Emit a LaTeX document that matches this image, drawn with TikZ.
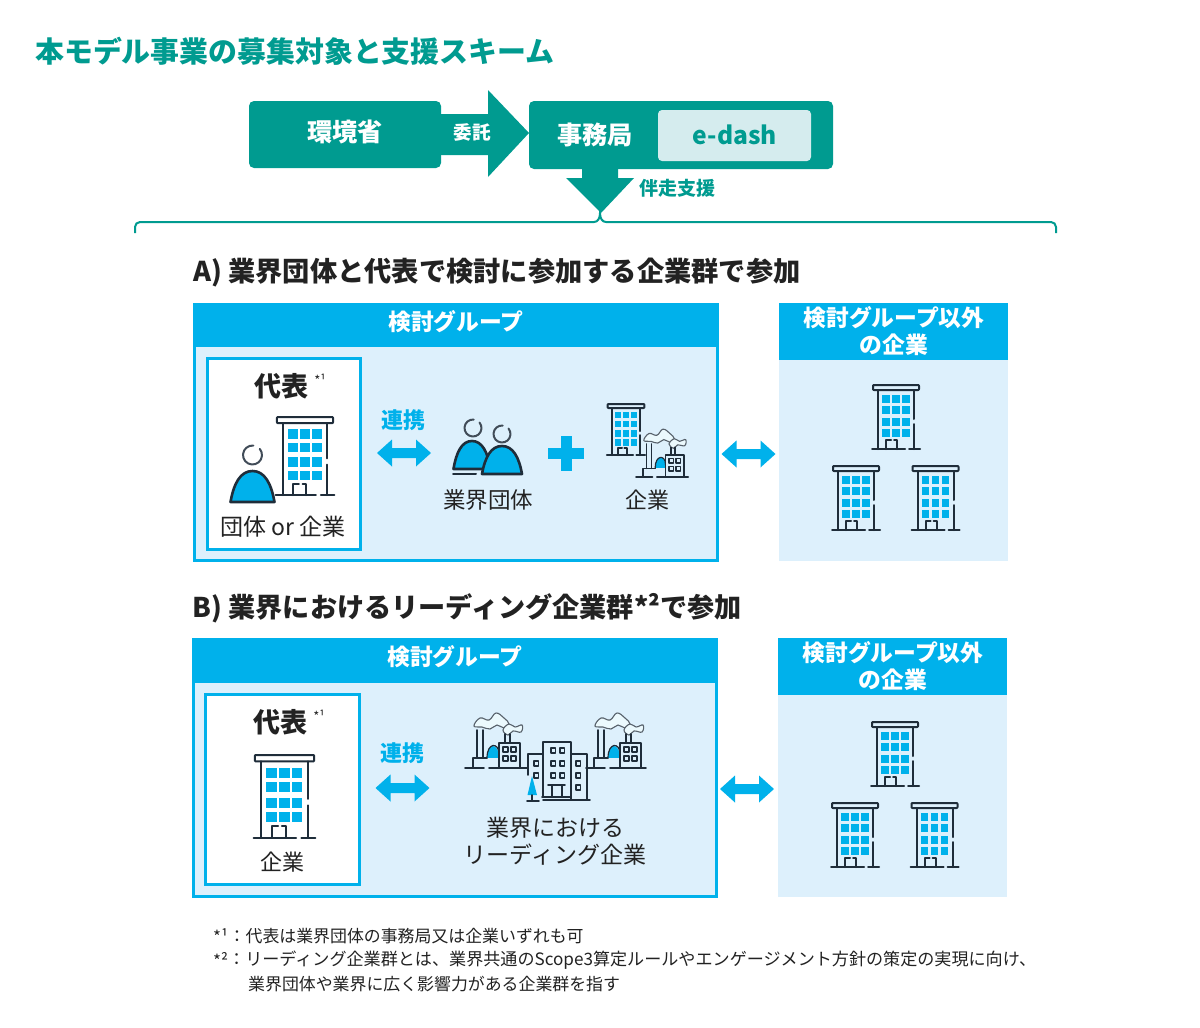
\documentclass[tikz,border=0pt]{standalone}
\usepackage{fontspec}
\newfontfamily\jp{Noto Sans CJK JP}
\definecolor{teal1}{HTML}{009B90}
\definecolor{teal2}{HTML}{D5ECEE}
\definecolor{blue1}{HTML}{00B1EB}
\definecolor{pane}{HTML}{DDF0FC}
\definecolor{ink}{HTML}{1F2D3A}
\definecolor{txt}{HTML}{222222}
\tikzset{
  lbl/.style={inner sep=0pt,text=txt,font=\jp\fontsize{#1}{#1}\selectfont},
  blbl/.style={inner sep=0pt,text=txt,font=\jp\bfseries\fontsize{#1}{#1}\selectfont},
  ico/.style={draw=ink,line width=2pt,line cap=round,line join=round},
  win/.style={fill=blue1,draw=none},
}
% building: x of centre, y of roof top, scale
\newcommand{\Bldg}[3]{\begin{scope}[shift={(#1,#2)},scale=#3]
  \foreach \r in {10,21,33,44}{\foreach \c in {-14,-4,6}{
    \fill[win] (\c,\r) rectangle ++(7.9,8);}}
  \draw[ico,rounded corners=.8pt] (-23,0) rectangle (23,5);
  \draw[ico] (-18,5) -- (-18,64);
  \draw[ico] (18,5) -- (18,34);
  \draw[ico] (18,39) -- (18,64);
  \draw[ico] (-24,64) -- (9,64);
  \draw[ico] (13,64) -- (24,64);
  \draw[ico] (-10,64) -- (-10,55) -- (-5,55);
  \draw[ico] (-2,55) -- (1,55) -- (1,64);
\end{scope}}
% person: centre x, base y, half width, height, head x, head y, head radius
\newcommand{\Person}[7]{%
  \draw[ico,line width=2.6pt,fill=blue1] (#1-#3,#2) .. controls (#1-#3*.85,#2-#4*.6) and (#1-#3*.55,#2-#4) .. (#1,#2-#4)
    .. controls (#1+#3*.55,#2-#4) and (#1+#3*.85,#2-#4*.6) .. (#1+#3,#2) -- cycle;
  \draw[ico,draw=ink!85,line width=2pt] (#5,#6)+(-85:#7) arc[start angle=-85,end angle=-400,radius=#7];
}
% factory: base-left x, base y, scale
\newcommand{\Fact}[3]{\begin{scope}[shift={(#1,#2)},scale=#3]
  \tikzset{ico/.append style={line width=1.6pt}}
  \draw[draw=ink!75,fill=white!92!blue1,line width=1.1pt] plot[smooth cycle,tension=.7] coordinates {(9,-42)(15,-50)(24,-48)(31,-55)(39,-50)(44,-44)(39,-40)(32,-43)(25,-39)(17,-41)};
  \draw[draw=ink!75,fill=white!92!blue1,line width=1.1pt] plot[smooth cycle,tension=.7] coordinates {(38,-38)(44,-44)(50,-41)(57,-43)(56,-36)(48,-37)(43,-33)};
  \draw[ico] (12,-38) -- (12,-10); \draw[ico] (18,-38) -- (18,-10);
  \draw[ico] (40,-25) -- (40,-34); \draw[ico] (45,-25) -- (45,-34);
  \draw[ico] (8,0) -- (8,-10) -- (22,-10);
  \fill[blue1] (22,-10) .. controls (22,-26) and (34,-26) .. (34,-10) -- cycle;
  \draw[ico,line width=1.2pt] (22,-10) .. controls (22,-26) and (34,-26) .. (34,-14);
  \draw[ico,fill=pane] (34,0) -- (34,-25) -- (55,-25) -- (55,0);
  \foreach \wx in {38,46}{\foreach \wy in {-21,-12}{\draw[ico,line width=1.2pt] (\wx,\wy) rectangle ++(5,5);}}
  \draw[ico] (0,0) -- (19,0); \draw[ico] (24,0) -- (60,0);
\end{scope}}
% double arrow: centre x, y
\newcommand{\DArrow}[2]{\fill[blue1] (#1-27,#2) -- (#1-12,#2-13.5) -- (#1-12,#2-5) -- (#1+12,#2-5) -- (#1+12,#2-13.5) -- (#1+27,#2) -- (#1+12,#2+13.5) -- (#1+12,#2+5) -- (#1-12,#2+5) -- (#1-12,#2+13.5) -- cycle;}
\begin{document}
\begin{tikzpicture}[x=1pt,y=-1pt]
\useasboundingbox (0,0) rectangle (1200,1028);
\fill[white] (0,0) rectangle (1200,1028);

\node[blbl=28.9,text=teal1,anchor=west] (title) at (35,51) {本モデル事業の募集対象と支援スキーム};

% top flow
\fill[teal1] (488,90) -- (529,133) -- (488,177) -- (488,155) -- (430,155) -- (430,114) -- (488,114) -- cycle;
\fill[teal1,rounded corners=5pt] (249,101) rectangle (441,168);
\fill[teal1,rounded corners=5pt] (529,101) rectangle (833,169);
\fill[teal1] (582,160) -- (618,160) -- (618,178) -- (634,178) -- (601,213) -- (566,178) -- (582,178) -- cycle;
\fill[teal2,rounded corners=4pt] (658,110) rectangle (811,161);
\node[blbl=25.2,text=white] (moe) at (345,132) {環境省};
\node[blbl=18.6,text=white] (itaku) at (472,132) {委託};
\node[blbl=25.2,text=white] (jimu) at (595,135) {事務局};
\node[blbl=24.6,text=teal1] (edash) at (735,135) {e-dash};
\node[blbl=19,text=teal1] (bansou) at (677,188) {伴走支援};
\draw[teal1,line width=2pt,rounded corners=5pt] (135,233) -- (135,222) -- (594,222);
\draw[teal1,line width=2pt,rounded corners=5pt] (1056,233) -- (1056,222) -- (606,222);
\draw[teal1,line width=2pt] (594,222) .. controls (598,222) and (600,218) .. (600,213) .. controls (600,218) and (602,222) .. (606,222);

% A
\node[blbl=27.25,anchor=west] (ha) at (193,272.5) {A) 業界団体と代表で検討に参加する企業群で参加};
\fill[pane] (193,303) rectangle (719,561);
\draw[blue1,line width=3pt] (194.5,304.5) rectangle (717.5,560);
\fill[blue1] (193,303) rectangle (719,347);
\node[blbl=22.8,text=white] (ga) at (456,322) {検討グループ};
\fill[pane] (779,303) rectangle (1008,561);
\fill[blue1] (779,303) rectangle (1008,360);
\node[blbl=22.8,text=white] (oa1) at (894,318) {検討グループ以外};
\node[blbl=22.8,text=white] (oa2) at (894,345) {の企業};
\draw[blue1,line width=3pt,fill=white] (207,358) rectangle (360.5,549);
\node[blbl=27] (da) at (281,386) {代表};
\node[lbl=13] (sa) at (320,380) {*¹};
\Bldg{305}{417}{1.22}
\Person{252.5}{502}{22}{31}{252.5}{455}{9.5}
\node[lbl=23] (ta) at (283,527) {団体 or 企業};
\node[blbl=22,text=blue1] (ra) at (403,420) {連携};
\DArrow{404}{453}
\Person{472}{469}{18.5}{28}{473}{428}{8.5}
\draw[ico,line width=2pt] (453,474) -- (476,474);
\Person{502}{474}{20}{28}{502}{434}{8.5}
\node[lbl=22.5] (gyo) at (488,500) {業界団体};
\fill[blue1] (560.5,436) rectangle (571.5,471);
\fill[blue1] (548,448) rectangle (584,459);
\Bldg{626}{404}{.8}
\Fact{636}{477}{.87}
\node[lbl=22] (kig) at (647,500) {企業};
\DArrow{748.5}{454}
\Bldg{896}{385}{1}
\Bldg{856}{466}{1}
\Bldg{935.5}{466}{1}

% B
\node[blbl=27.15,anchor=west] (hb) at (192.5,608.5) {B) 業界におけるリーディング企業群*²で参加};
\fill[pane] (192,638) rectangle (718,897);
\draw[blue1,line width=3pt] (193.5,639.5) rectangle (716.5,896);
\fill[blue1] (192,638) rectangle (718,683);
\node[blbl=22.8,text=white] (gb) at (455,657) {検討グループ};
\fill[pane] (778,638) rectangle (1007,897);
\fill[blue1] (778,638) rectangle (1007,695);
\node[blbl=22.8,text=white] (ob1) at (893,653) {検討グループ以外};
\node[blbl=22.8,text=white] (ob2) at (893,680) {の企業};
\draw[blue1,line width=3pt,fill=white] (205,694) rectangle (359.5,884);
\node[blbl=27] (db) at (280,722) {代表};
\node[lbl=13] (sb) at (319,716) {*¹};
\Bldg{284.5}{755}{1.29}
\node[lbl=22] (kb) at (282,862) {企業};
\node[blbl=22,text=blue1] (rb) at (402,753) {連携};
\DArrow{402.5}{788}
% leading companies
\Fact{465}{768}{1}
\Fact{586}{768}{1}
\begin{scope}
  \tikzset{ico/.append style={line width=1.6pt}}
  \draw[ico] (525,768) -- (528,768); \draw[ico] (587,768) -- (590,768);
  \draw[ico] (528,775) -- (528,754) -- (543,754);
  \draw[ico] (543,796) -- (543,742) -- (571,742) -- (571,800);
  \draw[ico] (571,754) -- (587,754) -- (587,800);
  \draw[ico] (543,800) -- (590,800); \draw[ico] (542,797) -- (570,797);
  \foreach \wx in {551,560}{\foreach \wy in {748,761,773}{\draw[ico,line width=1.2pt] (\wx,\wy) rectangle ++(4.5,5);}}
  \foreach \wy in {761,773}{\draw[ico,line width=1.2pt] (534,\wy) rectangle ++(4.5,5);}
  \foreach \wy in {761,773,785}{\draw[ico,line width=1.2pt] (576,\wy) rectangle ++(4.5,5);}
  \draw[ico] (548,785) -- (565,785); \draw[ico] (552,785) -- (552,797); \draw[ico] (562,785) -- (562,797);
  \fill[blue1] (532,776) -- (537,795) -- (527.5,795) -- cycle;
  \draw[ico] (532,795) -- (532,801); \draw[ico] (527,801) -- (539,801);
\end{scope}
\node[lbl=23] (gb1) at (555,828) {業界における};
\node[lbl=23] (gb2) at (555,855) {リーディング企業};
\DArrow{747}{789}
\Bldg{895}{722}{1}
\Bldg{855}{803}{1}
\Bldg{934.5}{803}{1}

% notes
\node[lbl=16.9,anchor=west] (n1a) at (213,936) {*¹};
\node[lbl=16.9,anchor=west] (n1b) at (228.5,936) {：代表は業界団体の事務局又は企業いずれも可};
\node[lbl=16.9,anchor=west] (n2a) at (213,960) {*²};
\node[lbl=17.09,anchor=west] (n2b) at (228,960) {：リーディング企業群とは、業界共通のScope3算定ルールやエンゲージメント方針の策定の実現に向け、};
\node[lbl=16.9,anchor=west] (n3) at (248,984) {業界団体や業界に広く影響力がある企業群を指す};
\end{tikzpicture}
\end{document}
